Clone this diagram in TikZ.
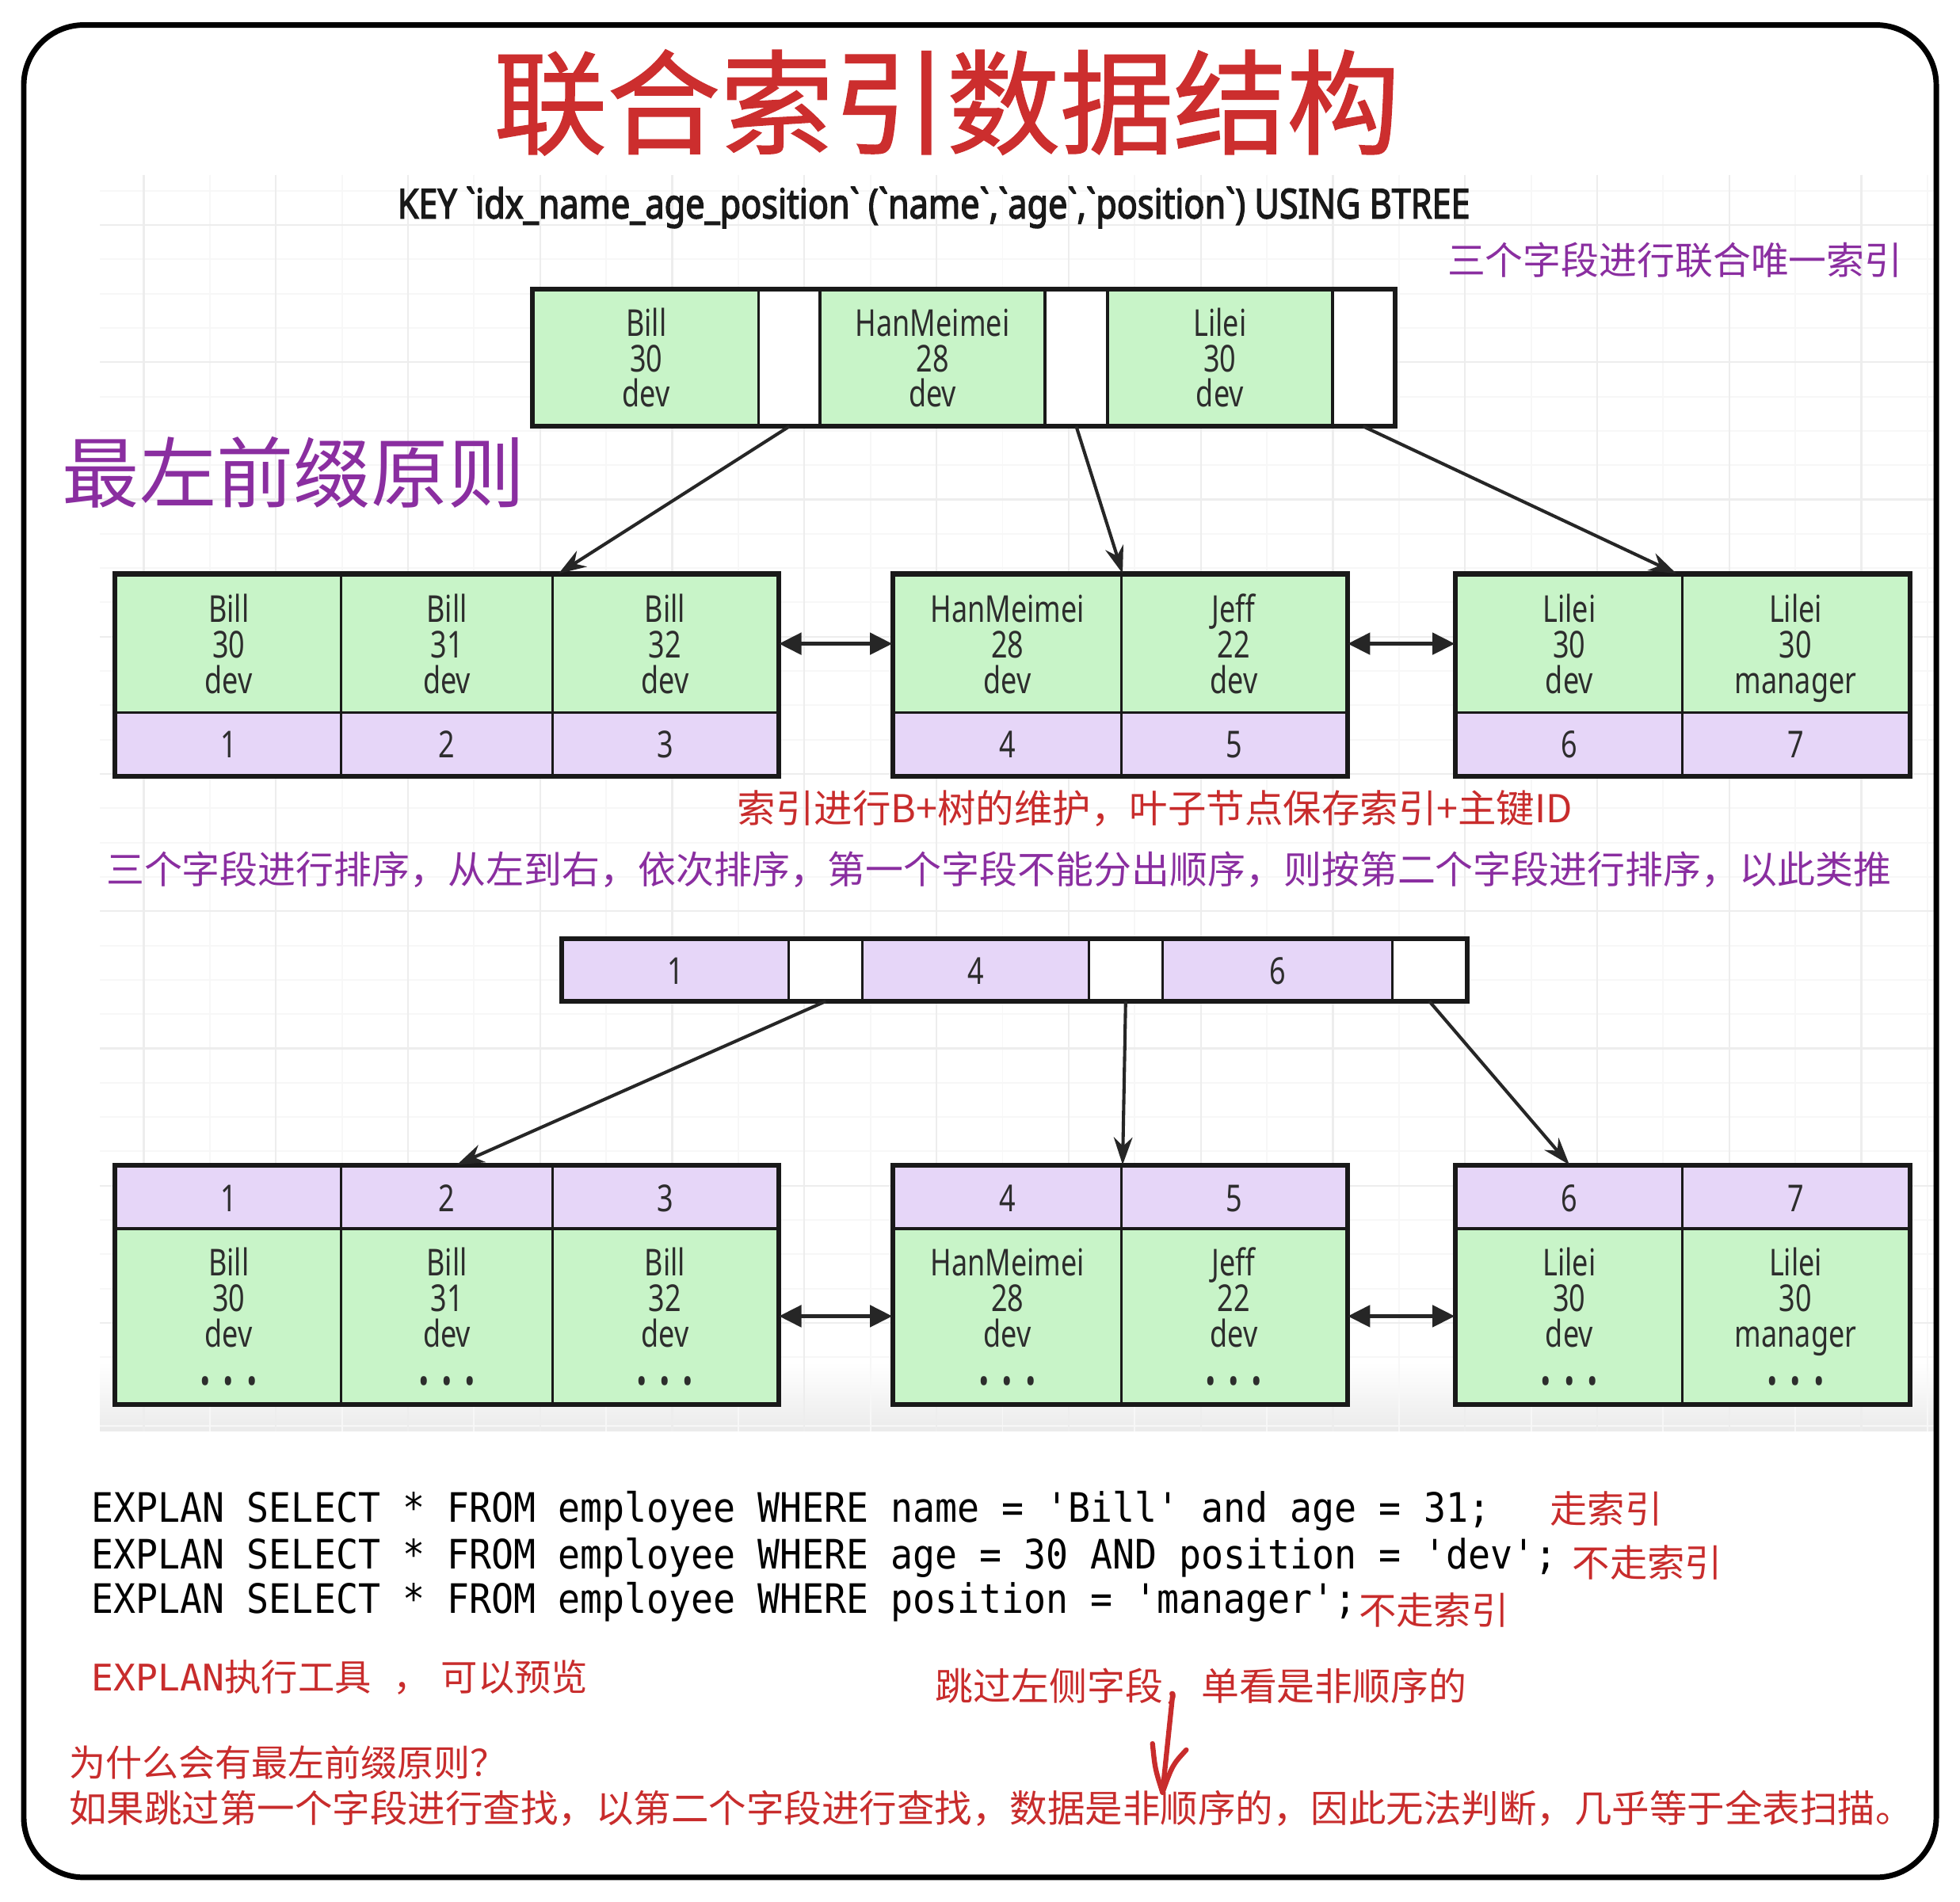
\documentclass[tikz,border=0pt]{standalone}
\usepackage{fontspec}
\usepackage{graphicx}
\usetikzlibrary{arrows.meta,fit}
\newfontfamily\cjk{Noto Sans CJK SC}
\newfontfamily\cjkt{Noto Sans CJK SC}[FakeBold=1.2]
\newfontfamily\boxfont{Noto Sans}
\newfontfamily\keyfont{Noto Sans}[FakeBold=3]
\newfontfamily\monofont{DejaVu Sans Mono}
\definecolor{leafgreen}{RGB}{200,244,200}
\definecolor{leafpurple}{RGB}{230,214,248}
\definecolor{titlered}{RGB}{204,46,46}
\definecolor{notered}{RGB}{200,44,44}
\definecolor{notepurple}{RGB}{138,46,160}
\definecolor{txtgray}{RGB}{45,45,45}
\newcommand\fitw[2]{\resizebox{#1}{!}{#2}}
\newcommand\fitwy[3]{\scalebox{1}[#2]{\resizebox{#1}{!}{#3}}}
\newcommand\bt[1]{\scalebox{1}[1.3]{\boxfont\fontsize{11.4pt}{10.96pt}\selectfont\vbox{\lineskiplimit=-\maxdimen\lineskip=0pt\def\\{\cr}\halign{\hfil\vrule width0pt height11.26pt depth2.6pt##\hfil\cr#1\crcr}}}}
\newcommand\dotrow{\\\noalign{\kern3.5pt}•\hspace{5pt}•\hspace{5pt}•\cr\noalign{\kern-3.1pt}}
\newcommand\sqlt[1]{\scalebox{1}[1.1]{\monofont\fontsize{14.75pt}{16pt}\selectfont\frenchspacing #1}}
\newcommand\q{\textquotesingle}
\newcommand\mkcell[7]{\node[#6, minimum width={(#4-#2)*0.5pt}, minimum height={(#5-#3)*0.5pt}] (#1) at ({(#2+#4)/2},{(#3+#5)/2}) {#7};}
\tikzset{
  cellbase/.style={draw=black!90, line width=1.1pt, inner sep=0pt, text=txtgray},
  gcell/.style={cellbase, fill=leafgreen},
  pcell/.style={cellbase, fill=leafpurple},
  wcell/.style={cellbase, fill=white},
  grpbox/.style={draw=black!90, line width=1.7pt, inner sep=0pt},
  ptr/.style={draw=black!85, line width=1.3pt, -{Stealth[length=11pt,width=7.5pt]}},
  dbl/.style={draw=black!85, line width=1.8pt, {Triangle[length=9pt,width=8.5pt]}-{Triangle[length=9pt,width=8.5pt]}},
  handred/.style={draw=notered, line width=2pt, line cap=round, line join=round},
  gridminor/.style={draw=gray!6, line width=0.6pt},
  gridmajor/.style={draw=gray!14, line width=0.7pt},
}
\begin{document}
\begin{tikzpicture}[x=0.5pt,y=-0.5pt]
\useasboundingbox (0,0) rectangle (1568,1521.7);
\fill[white] (0,0) rectangle (1568,1521.7);
% grid background
\fill[top color=white,bottom color=gray!16] (80,1090) rectangle (1548,1145);
\foreach \k in {0,...,27} \draw[gridminor] ({115+52.85*\k},140) -- ({115+52.85*\k},1145);
\foreach \k in {-1,...,35} \draw[gridminor] (80,{180+27.45*\k}) -- (1548,{180+27.45*\k});
\foreach \k in {0,...,13} \draw[gridmajor] ({115+105.7*\k},140) -- ({115+105.7*\k},1145);
\foreach \k in {0,...,8} \draw[gridmajor] (80,{180+109.8*\k}) -- (1548,{180+109.8*\k});
% outer frame
\draw[line width=2.2pt, rounded corners=24pt] (19,20) rectangle (1549,1502);
% titles and notes
\node[text=titlered] (title) at (757.5,82) {\fitw{362.5pt}{\cjkt 联合索引数据结构}};
\node[text=black!90] (keyline) at (747,166) {\fitwy{429pt}{1.2}{\keyfont KEY \textasciigrave idx\_name\_age\_position\textasciigrave{} (\textasciigrave name\textasciigrave,\textasciigrave age\textasciigrave,\textasciigrave position\textasciigrave) USING BTREE}};
\node[text=notepurple] (anno1) at (1340,208) {\fitw{182pt}{\cjk 三个字段进行联合唯一索引}};
\node[text=notepurple] (anno2) at (235,378) {\fitw{185pt}{\cjk 最左前缀原则}};
\node[text=notered] (anno3) at (924,647) {\fitw{334pt}{\cjk 索引进行B+树的维护，叶子节点保存索引+主键ID}};
\node[text=notepurple] (anno4) at (799,696) {\fitw{714pt}{\cjk 三个字段进行排序，从左到右，依次排序，第一个字段不能分出顺序，则按第二个字段进行排序，以此类推}};
% ---- tree 1 : root
\mkcell{t1}{427}{232}{607}{340}{gcell}{\bt{Bill\\30\\dev}}
\mkcell{tw1}{607}{232}{656}{340}{wcell}{}
\mkcell{t2}{656}{232}{836}{340}{gcell}{\bt{HanMeimei\\28\\dev}}
\mkcell{tw2}{836}{232}{886}{340}{wcell}{}
\mkcell{t3}{886}{232}{1066}{340}{gcell}{\bt{Lilei\\30\\dev}}
\mkcell{tw3}{1066}{232}{1115}{340}{wcell}{}
\node[grpbox, fit=(t1)(tw3)] (root1) {};
% ---- tree 1 : leaves
\mkcell{la}{93}{460}{273}{570}{gcell}{\bt{Bill\\30\\dev}}
\mkcell{lb}{273}{460}{442}{570}{gcell}{\bt{Bill\\31\\dev}}
\mkcell{lc}{442}{460}{622}{570}{gcell}{\bt{Bill\\32\\dev}}
\mkcell{ld}{715}{460}{897}{570}{gcell}{\bt{HanMeimei\\28\\dev}}
\mkcell{le}{897}{460}{1077}{570}{gcell}{\bt{Jeff\\22\\dev}}
\mkcell{lf}{1165}{460}{1346}{570}{gcell}{\bt{Lilei\\30\\dev}}
\mkcell{lg}{1346}{460}{1527}{570}{gcell}{\bt{Lilei\\30\\manager}}
\mkcell{pa}{93}{570}{273}{620}{pcell}{\bt{1}}
\mkcell{pb}{273}{570}{442}{620}{pcell}{\bt{2}}
\mkcell{pc}{442}{570}{622}{620}{pcell}{\bt{3}}
\mkcell{pd}{715}{570}{897}{620}{pcell}{\bt{4}}
\mkcell{pe}{897}{570}{1077}{620}{pcell}{\bt{5}}
\mkcell{pf}{1165}{570}{1346}{620}{pcell}{\bt{6}}
\mkcell{pg}{1346}{570}{1527}{620}{pcell}{\bt{7}}
\node[grpbox, fit=(la)(pc)] (leafA) {};
\node[grpbox, fit=(ld)(pe)] (leafB) {};
\node[grpbox, fit=(lf)(pg)] (leafC) {};
\draw[ptr] (tw1.south) -- ([xshift=3pt]lc.north west);
\draw[ptr] (tw2.south) -- (ld.north east);
\draw[ptr] (tw3.south) -- ([xshift=-3pt]lf.north east);
\draw[dbl] (lc.east) -- (ld.west);
\draw[dbl] (le.east) -- (lf.west);
% ---- tree 2 : root
\mkcell{u1}{450}{752}{631}{800}{pcell}{\bt{1}}
\mkcell{bw1}{631}{752}{690}{800}{wcell}{}
\mkcell{u2}{690}{752}{871}{800}{pcell}{\bt{4}}
\mkcell{bw2}{871}{752}{930}{800}{wcell}{}
\mkcell{u3}{930}{752}{1114}{800}{pcell}{\bt{6}}
\mkcell{bw3}{1114}{752}{1173}{800}{wcell}{}
\node[grpbox, fit=(u1)(bw3)] (root2) {};
% ---- tree 2 : leaves
\mkcell{qa}{93}{933}{273}{983}{pcell}{\bt{1}}
\mkcell{qb}{273}{933}{442}{983}{pcell}{\bt{2}}
\mkcell{qc}{442}{933}{622}{983}{pcell}{\bt{3}}
\mkcell{qd}{715}{933}{897}{983}{pcell}{\bt{4}}
\mkcell{qe}{897}{933}{1077}{983}{pcell}{\bt{5}}
\mkcell{qf}{1165}{933}{1346}{983}{pcell}{\bt{6}}
\mkcell{qg}{1346}{933}{1527}{983}{pcell}{\bt{7}}
\mkcell{ma}{93}{983}{273}{1123}{gcell}{\bt{Bill\\30\\dev\dotrow}}
\mkcell{mb}{273}{983}{442}{1123}{gcell}{\bt{Bill\\31\\dev\dotrow}}
\mkcell{mc}{442}{983}{622}{1123}{gcell}{\bt{Bill\\32\\dev\dotrow}}
\mkcell{md}{715}{983}{897}{1123}{gcell}{\bt{HanMeimei\\28\\dev\dotrow}}
\mkcell{me}{897}{983}{1077}{1123}{gcell}{\bt{Jeff\\22\\dev\dotrow}}
\mkcell{mf}{1165}{983}{1346}{1123}{gcell}{\bt{Lilei\\30\\dev\dotrow}}
\mkcell{mg}{1346}{983}{1527}{1123}{gcell}{\bt{Lilei\\30\\manager\dotrow}}
\node[grpbox, fit=(qa)(mc)] (leafD) {};
\node[grpbox, fit=(qd)(me)] (leafE) {};
\node[grpbox, fit=(qf)(mg)] (leafF) {};
\draw[ptr] (bw1.south) -- ([xshift=4pt]qb.north);
\draw[ptr] (bw2.south) -- (qd.north east);
\draw[ptr] (bw3.south) -- (qf.north);
\draw[dbl] (mc.east) -- (md.west);
\draw[dbl] (me.east) -- (mf.west);
% ---- SQL
\node[anchor=west, inner sep=0, text=black] (sql1) at (73,1209) {\sqlt{EXPLAN SELECT * FROM employee WHERE name = \q Bill\q{} and age = 31;}};
\node[anchor=west, inner sep=0, text=black] (sql2) at (73,1246) {\sqlt{EXPLAN SELECT * FROM employee WHERE age = 30 AND position = \q dev\q;}};
\node[anchor=west, inner sep=0, text=black] (sql3) at (73,1282) {\sqlt{EXPLAN SELECT * FROM employee WHERE position = \q manager\q;}};
\node[text=notered] (r1) at (1285,1207) {\fitw{45pt}{\cjk 走索引}};
\node[text=notered] (r2) at (1318,1250) {\fitw{60pt}{\cjk 不走索引}};
\node[text=notered] (r3) at (1147,1288) {\fitw{60pt}{\cjk 不走索引}};
\node[anchor=west, inner sep=0, text=notered] (r4) at (73,1342) {\fitw{198.5pt}{{\monofont EXPLAN}\cjk 执行工具\hspace{0.6em}，\hspace{0.3em}可以预览}};
\node[anchor=west, inner sep=0, text=notered] (r5) at (748,1349) {\fitw{212.5pt}{\cjk 跳过左侧字段，单看是非顺序的}};
\node[anchor=west, inner sep=0, text=notered] (r6) at (55,1410) {\fitw{175pt}{\cjk 为什么会有最左前缀原则？}};
\node[anchor=west, inner sep=0, text=notered] (r7) at (55,1447) {\fitw{737.5pt}{\cjk 如果跳过第一个字段进行查找，以第二个字段进行查找，数据是非顺序的，因此无法判断，几乎等于全表扫描。}};
% hand-drawn red arrow
\coordinate (ha) at (938,1357);
\coordinate (hb) at (930,1434);
\coordinate (hl) at (922,1395);
\coordinate (hr) at (949,1400);
\draw[handred] (ha) -- (hb);
\draw[handred] (hl) .. controls (924,1415) .. (hb);
\draw[handred] (hr) .. controls (938,1412) .. (hb);
\end{tikzpicture}
\end{document}
